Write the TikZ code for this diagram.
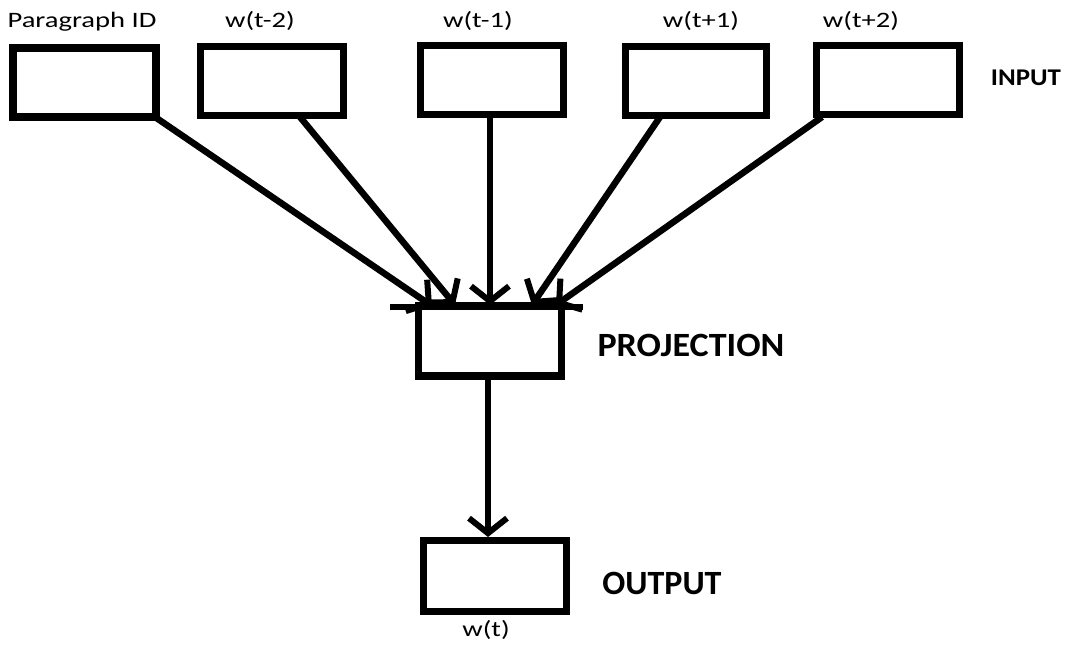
\documentclass[tikz,border=0pt]{standalone}
\usepackage{fontspec}
\setmainfont{Carlito}
\usetikzlibrary{arrows.meta}
\newcommand{\wide}[2]{\scalebox{#1}[1]{#2}}
\begin{document}
\begin{tikzpicture}[x=1pt,y=-1pt,
  inbox/.style={draw=black,line width=7.5pt,fill=white},
  conn/.style={line width=6.5pt,-{Straight Barb[length=15pt,width=38pt,line width=6pt]}},
  small/.style={font=\fontsize{22}{24}\selectfont},
  big/.style={font=\bfseries\fontsize{34}{36}\selectfont},
  mid/.style={font=\bfseries\fontsize{24}{26}\selectfont}]
\useasboundingbox (0,0) rectangle (1069,646);
% box frames (invisible named nodes, drawn below)
\node (b0) at (84.5,82.5) [minimum width=150pt,minimum height=76pt] {};
\node (b1) at (272,81) [minimum width=150pt,minimum height=76pt] {};
\node (b2) at (492,80) [minimum width=150pt,minimum height=76pt] {};
\node (b3) at (696,81) [minimum width=148pt,minimum height=76pt] {};
\node (b4) at (888,80) [minimum width=150pt,minimum height=76pt] {};
\node (pr) at (490,341) [minimum width=150pt,minimum height=77pt] {};
\node (ou) at (495,576) [minimum width=150pt,minimum height=78pt] {};
\foreach \n in {b0,b1,b2,b3,b4,pr,ou}{
  \draw[inbox] ([xshift=3.75pt,yshift=-3.75pt]\n.north west) rectangle ([xshift=-3.75pt,yshift=3.75pt]\n.south east);
}
% top bar of projection
\draw[line width=6.5pt] (390,307) -- (583,307);
% connectors
\coordinate (t0) at (432,306);
\coordinate (t1) at (455,305);
\coordinate (t2) at (490,305);
\coordinate (t3) at (532,305);
\coordinate (t4) at (556,305);
\coordinate (t5) at (488,537);
\draw[conn] (155,117) -- (t0);
\draw[conn] (300,117) -- (t1);
\draw[conn] (490,117) -- (t2);
\draw[conn] (660,117) -- (t3);
\draw[conn] (822,117) -- (t4);
\draw[conn] (488,380) -- (t5);
% labels
\node[small] (l0) at (82,22) {\wide{1.3}{Paragraph ID}};
\node[small] (l1) at (260,21) {\wide{1.3}{w(t-2)}};
\node[small] (l2) at (478,21) {\wide{1.3}{w(t-1)}};
\node[small] (l3) at (701,21) {\wide{1.3}{w(t+1)}};
\node[small] (l4) at (861,21) {\wide{1.3}{w(t+2)}};
\node[mid] (lin) at (1026,78) {\wide{1.12}{INPUT}};
\node[big] (lpr) at (691,345) {\wide{1.06}{PROJECTION}};
\node[big] (lou) at (662,583) {OUTPUT};
\node[small] (lw) at (486,630) {\wide{1.3}{w(t)}};
\end{tikzpicture}
\end{document}
